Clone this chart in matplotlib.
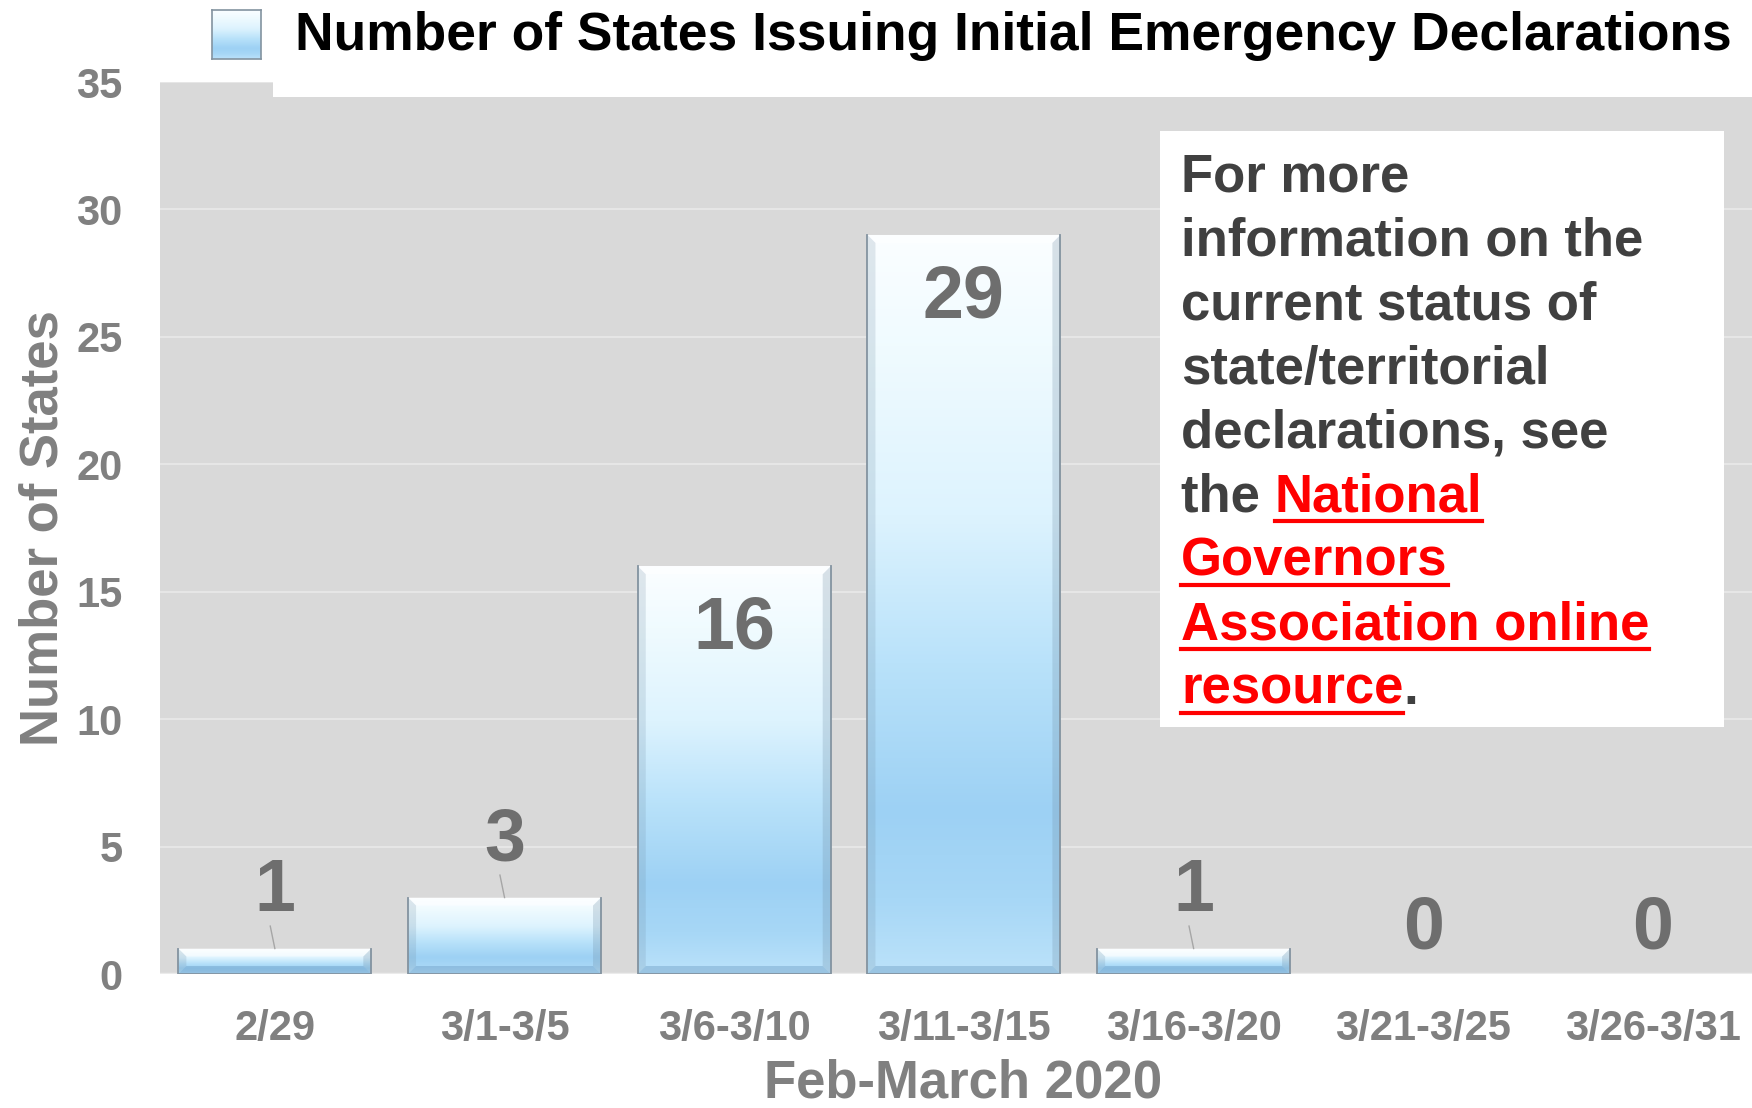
import numpy as np
import matplotlib.pyplot as plt
from matplotlib.colors import LinearSegmentedColormap
from matplotlib.patches import Polygon, Rectangle
from matplotlib.lines import Line2D

# data
periods = ['2/29', '3/1-3/5', '3/6-3/10', '3/11-3/15', '3/16-3/20', '3/21-3/25', '3/26-3/31']
states = [1, 3, 16, 29, 1, 0, 0]
y_ticks = [0, 5, 10, 15, 20, 25, 30, 35]
series_name = 'Number of States Issuing Initial Emergency Declarations'

# note box text, (text, is_link)
note_lines = [
    [('For more', False)],
    [('information on the', False)],
    [('current status of', False)],
    [('state/territorial', False)],
    [('declarations, see', False)],
    [('the ', False), ('National', True)],
    [('Governors', True)],
    [('Association online', True)],
    [('resource', True), ('.', False)],
]

W, H = 1752, 1108
plt.rcParams['font.family'] = ['Liberation Sans', 'DejaVu Sans']
plt.rcParams['font.weight'] = 'bold'

fig = plt.figure(figsize=(W / 100, H / 100), dpi=100)
fig.patch.set_facecolor('white')

def fx(px):
    return px / W

def fy(py):
    return 1 - py / H

ax = fig.add_axes([fx(160), fy(974), (W - 160) / W, (974 - 82) / H])
ax.set_facecolor('#D9D9D9')
for s in ax.spines.values():
    s.set_visible(False)

bar_cmap = LinearSegmentedColormap.from_list('bar', [
    (0.0, '#FBFEFF'), (0.15, '#F0FBFF'), (0.38, '#DDF3FE'),
    (0.58, '#B9E2FA'), (0.78, '#9DD1F4'), (0.9, '#A7D7F6'), (1.0, '#BBE2FA')])
grad = np.linspace(0, 1, 256).reshape(-1, 1)

x = np.arange(len(periods))
bars = ax.bar(x, states, width=0.84, color='none', edgecolor='none', zorder=3)

bx = 8 / 229.7
by = 8 / 25.49
for b in bars:
    h = b.get_height()
    if h <= 0:
        continue
    x0 = b.get_x()
    x1 = x0 + b.get_width()
    im = ax.imshow(grad, cmap=bar_cmap, extent=[x0, x1, 0, h], origin='upper',
                   aspect='auto', zorder=3, interpolation='bicubic')
    im.set_clip_path(b)
    # bevel
    ax.add_patch(Polygon([(x0, h), (x1, h), (x1 - bx, h - by), (x0 + bx, h - by)],
                         closed=True, color='white', alpha=0.55, lw=0, zorder=4))
    ax.add_patch(Polygon([(x0, 0), (x1, 0), (x1 - bx, by), (x0 + bx, by)],
                         closed=True, color='#5E8FB8', alpha=0.35, lw=0, zorder=4))
    ax.add_patch(Polygon([(x0, 0), (x0, h), (x0 + bx, h - by), (x0 + bx, by)],
                         closed=True, color='#6F8CA3', alpha=0.2, lw=0, zorder=4))
    ax.add_patch(Polygon([(x1, 0), (x1, h), (x1 - bx, h - by), (x1 - bx, by)],
                         closed=True, color='#6F8CA3', alpha=0.25, lw=0, zorder=4))
    ax.plot([x0, x0, x1, x1], [h, 0, 0, h], color='#8393A0', lw=1.3, zorder=4.5)

# data labels
for i, v in enumerate(states):
    if v > 10:
        ty = v - 3.24
    elif v > 0:
        ty = v + 1.47
        ax.plot([i - 0.02, i], [v + 0.88, v], color='#A6A6A6', lw=1, zorder=4)
    else:
        ty = v + 1.02
    ax.text(i, ty, str(v), ha='center', va='baseline', fontsize=53,
            color='#6E6E6E', zorder=6)

ax.set_xlim(-0.5, 6.431)
ax.set_ylim(0, 35)
ax.set_yticks(y_ticks)
ax.set_xticks(x)
ax.set_xticklabels(periods)
ax.yaxis.grid(True, color='#E6E6E6', lw=1.5)
ax.set_axisbelow(True)
ax.axhline(0, color='#EBEBEB', lw=2.5, zorder=2)
ax.tick_params(axis='both', length=0, labelsize=30, labelcolor='#808080')
ax.tick_params(axis='y', pad=27)
ax.tick_params(axis='x', pad=25)

# axis titles
fig.text(fx(963), fy(1108), 'Feb-March 2020', ha='center', va='bottom',
         fontsize=38, color='#808080')
fig.text(fx(58), fy(528), 'Number of States', rotation=90, rotation_mode='anchor',
         ha='center', va='baseline', fontsize=38, color='#808080')

# legend area
fig.add_artist(Rectangle((fx(273), fy(97)), 1 - fx(273), 97 / H, transform=fig.transFigure,
                         facecolor='white', edgecolor='none', zorder=5))
lax = fig.add_axes([fx(212), fy(59), 49 / W, 49 / H])
lax.set_zorder(6)
lax.imshow(grad, cmap=bar_cmap, extent=[0, 1, 0, 1], aspect='auto', interpolation='bicubic')
lax.set_xlim(0, 1)
lax.set_ylim(0, 1)
lax.set_xticks([])
lax.set_yticks([])
for s in lax.spines.values():
    s.set_color('#8393A0')
    s.set_linewidth(1.2)
fig.text(fx(295), fy(50), series_name, ha='left', va='baseline', fontsize=38.4,
         color='black', zorder=7)

# note box
fig.add_artist(Rectangle((fx(1160), fy(727)), (1724 - 1160) / W, (727 - 131) / H,
                         transform=fig.transFigure, facecolor='white', edgecolor='none',
                         zorder=5))
renderer = fig.canvas.get_renderer()

def text_width(s):
    t = fig.text(0, 0, s, fontsize=38)
    w = t.get_window_extent(renderer).width
    t.remove()
    return w

for i, line in enumerate(note_lines):
    yb = 192 + 64 * i
    full = ''
    for seg, is_link in line:
        full += seg
        start = 1181 + text_width(full) - text_width(seg)
        t = fig.text(fx(start), fy(yb), seg, ha='left', va='baseline', fontsize=38,
                     color='#FF0000' if is_link else '#404040', zorder=7)
        if is_link:
            bb = t.get_window_extent(renderer)
            fig.add_artist(Line2D([fx(bb.x0), fx(bb.x1)], [fy(yb + 9), fy(yb + 9)],
                                  transform=fig.transFigure, color='#FF0000', lw=3,
                                  zorder=7))

fig.savefig('out.png', dpi=100)
